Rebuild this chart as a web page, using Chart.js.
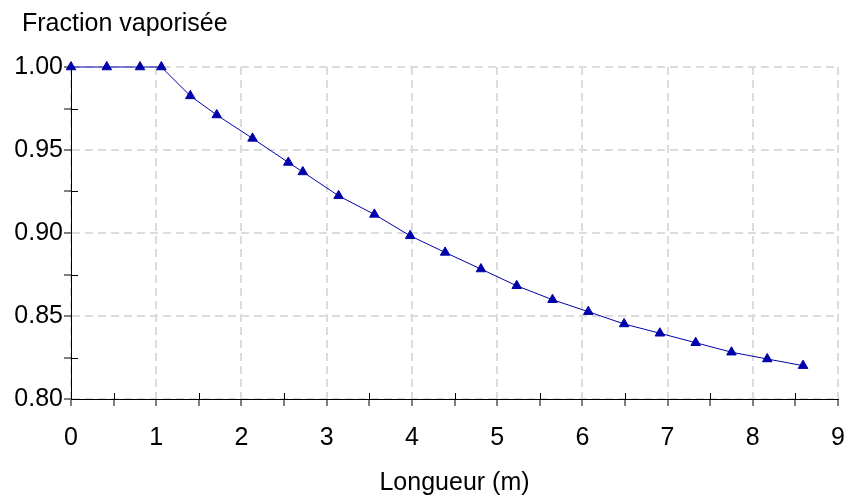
<!DOCTYPE html>
<html>
<head>
<meta charset="utf-8">
<script src="https://cdn.jsdelivr.net/npm/chart.js@4/dist/chart.umd.min.js"></script>
<style>
  html, body { margin: 0; padding: 0; background: #fff; }
  #wrap { width: 848px; height: 499px; }
</style>
</head>
<body>
<div id="wrap"><canvas id="vapChart"></canvas></div>
<script>
// Données
const longueur = [0, 0.42, 0.81, 1.06, 1.40, 1.71, 2.13, 2.55, 2.72, 3.14, 3.56, 3.98,
                  4.39, 4.81, 5.23, 5.65, 6.07, 6.49, 6.91, 7.33, 7.75, 8.17, 8.59];
const fraction = [1.0, 1.0, 1.0, 1.0, 0.9826, 0.9711, 0.957, 0.9425, 0.9368, 0.9224, 0.9112, 0.8983,
                  0.8883, 0.8783, 0.8682, 0.8598, 0.8526, 0.8452, 0.8396, 0.8339, 0.8282, 0.8241, 0.8201];

// Graduations
const xMajor = [0, 1, 2, 3, 4, 5, 6, 7, 8, 9];
const xMinor = [0.5, 1.5, 2.5, 3.5, 4.5, 5.5, 6.5, 7.5, 8.5];
const yMajor = [0.80, 0.85, 0.90, 0.95, 1.00];
const yMinor = [0.825, 0.875, 0.925, 0.975];

const FONT = "'Liberation Sans', Arial, sans-serif";
const GRID = '#dcdcdc';
const BLUE = '#0000AA';

function allTicks(major, minor) {
    return major.concat(minor).sort((a, b) => a - b).map(v => ({ value: v }));
}

// Titre en haut à gauche (au-dessus de l'axe vertical)
const topLeftTitle = {
    id: 'topLeftTitle',
    afterDraw(chart) {
        const { ctx } = chart;
        ctx.save();
        ctx.fillStyle = '#000';
        ctx.font = '25px ' + FONT;
        ctx.textBaseline = 'alphabetic';
        ctx.textAlign = 'left';
        ctx.fillText('Fraction vaporisée', 22, 31);
        ctx.restore();
    }
};

// Petits traits intérieurs des graduations secondaires
const minorTicksInside = {
    id: 'minorTicksInside',
    afterDraw(chart) {
        const { ctx, chartArea, scales } = chart;
        ctx.save();
        ctx.strokeStyle = '#000';
        ctx.lineWidth = 1;
        ctx.beginPath();
        xMinor.forEach(v => {
            const px = Math.round(scales.x.getPixelForValue(v)) + 0.5;
            ctx.moveTo(px, chartArea.bottom);
            ctx.lineTo(px, chartArea.bottom - 6);
        });
        yMinor.forEach(v => {
            const py = Math.round(scales.y.getPixelForValue(v)) + 0.5;
            ctx.moveTo(chartArea.left, py);
            ctx.lineTo(chartArea.left + 7, py);
        });
        ctx.stroke();
        ctx.restore();
    }
};

document.addEventListener('DOMContentLoaded', () => {
    const ctx = document.getElementById('vapChart').getContext('2d');
    new Chart(ctx, {
        type: 'scatter',
        data: {
            datasets: [{
                label: 'Fraction vaporisée',
                data: longueur.map((x, i) => ({ x: x, y: fraction[i] })),
                showLine: true,
                clip: false,
                borderColor: BLUE,
                borderWidth: 1,
                backgroundColor: BLUE,
                pointStyle: 'triangle',
                pointRadius: 5.5,
                pointBorderWidth: 1,
                pointBorderColor: BLUE,
                pointBackgroundColor: BLUE
            }]
        },
        options: {
            responsive: true,
            maintainAspectRatio: false,
            animation: false,
            layout: { padding: { left: 12, right: 10, top: 67, bottom: 0 } },
            plugins: {
                legend: { display: false },
                tooltip: { enabled: false },
                title: { display: false }
            },
            scales: {
                x: {
                    type: 'linear',
                    min: 0,
                    max: 9,
                    afterBuildTicks: s => { s.ticks = allTicks(xMajor, xMinor); },
                    afterFit: s => { s.height = 100; s.paddingLeft = 0; s.paddingRight = 0; },
                    ticks: {
                        color: '#000',
                        font: { family: FONT, size: 25 },
                        padding: 17,
                        maxRotation: 0,
                        autoSkip: false,
                        callback: v => xMajor.includes(v) ? String(v) : ''
                    },
                    grid: {
                        color: c => (c.tick && xMajor.includes(c.tick.value)) ? GRID : 'rgba(0,0,0,0)',
                        lineWidth: 2,
                        tickColor: '#000',
                        tickWidth: 1,
                        tickLength: 7,
                        tickBorderDash: []
                    },
                    border: { display: true, color: '#000', width: 1, dash: [8, 5] },
                    title: {
                        display: true,
                        text: 'Longueur (m)',
                        color: '#000',
                        font: { family: FONT, size: 25 },
                        padding: { top: 0, bottom: 1 }
                    }
                },
                y: {
                    type: 'linear',
                    min: 0.80,
                    max: 1.00,
                    afterBuildTicks: s => { s.ticks = allTicks(yMajor, yMinor); },
                    afterFit: s => { s.width = 59; s.paddingTop = 0; s.paddingBottom = 0; },
                    ticks: {
                        color: '#000',
                        font: { family: FONT, size: 25 },
                        padding: 1,
                        autoSkip: false,
                        callback: v => yMajor.includes(v) ? v.toFixed(2) : ''
                    },
                    grid: {
                        color: c => (c.tick && yMajor.includes(c.tick.value)) ? GRID : 'rgba(0,0,0,0)',
                        lineWidth: 2,
                        tickColor: '#000',
                        tickWidth: 1,
                        tickLength: 7,
                        tickBorderDash: []
                    },
                    border: { display: true, color: '#000', width: 1, dash: [8, 5] }
                }
            }
        },
        plugins: [minorTicksInside, topLeftTitle]
    });
});
</script>
</body>
</html>
